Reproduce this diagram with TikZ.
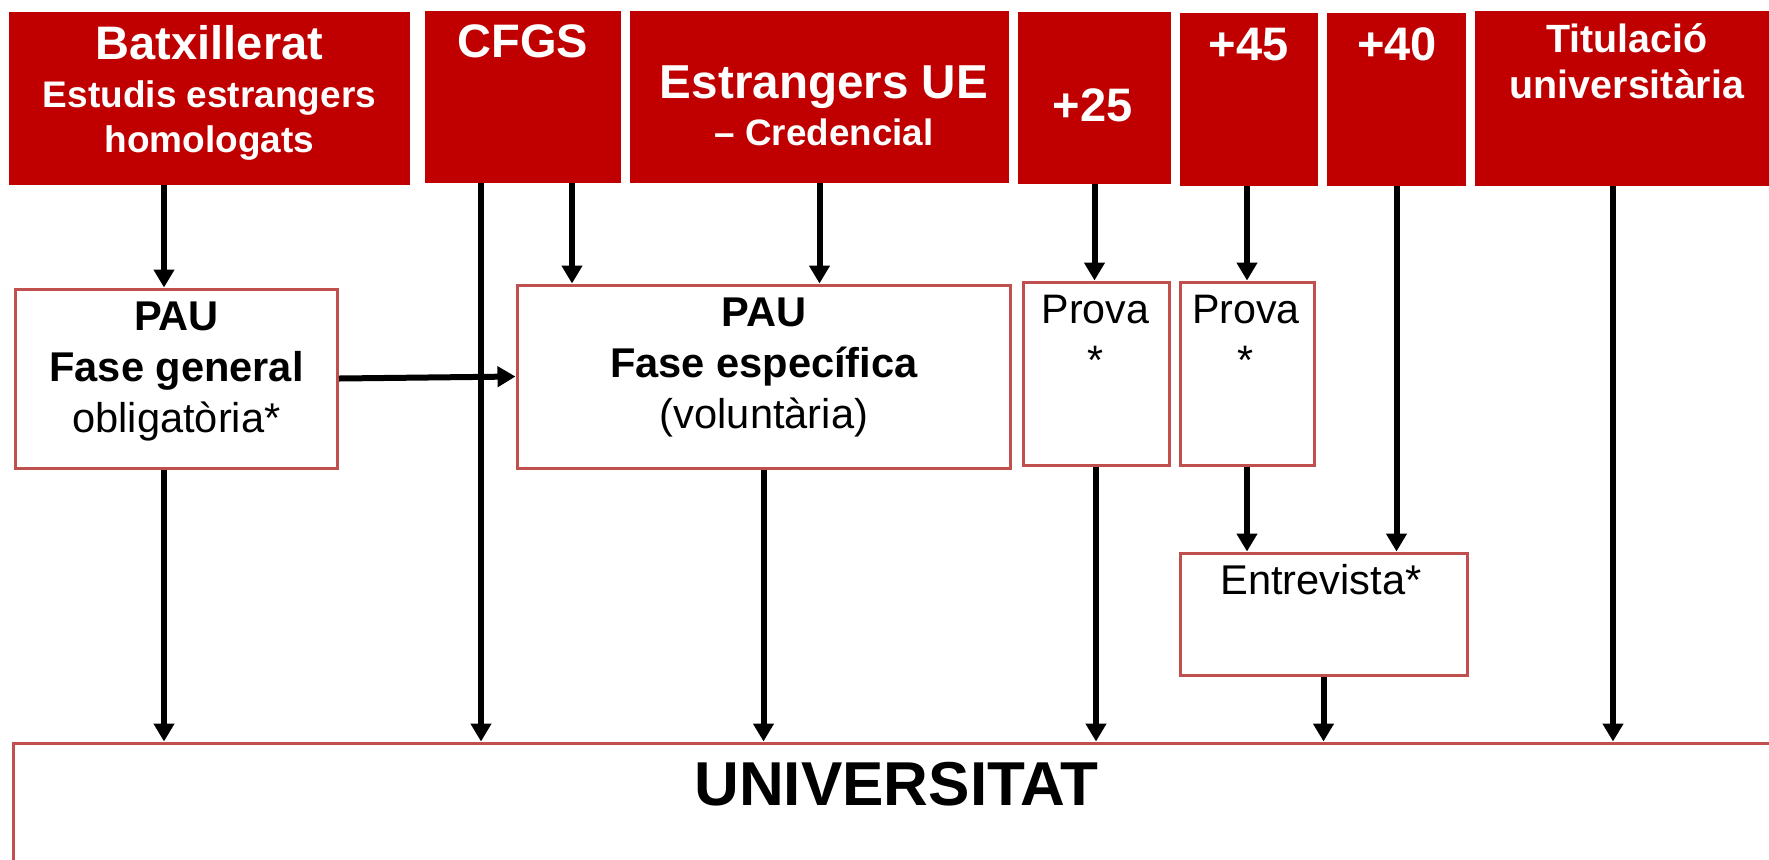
\documentclass[tikz,border=0pt]{standalone}
\usepackage{fontspec}
\setmainfont{Liberation Sans}
\usetikzlibrary{arrows.meta}
\definecolor{darkred}{HTML}{C00000}
\definecolor{boxred}{HTML}{C0504D}

\begin{document}
\begin{tikzpicture}[x=0.5pt,y=-0.5pt,
        topbox/.style={fill=darkred, draw=none, inner sep=0pt},
        midbox/.style={draw=boxred, line width=1.5pt, fill=white, inner sep=0pt},
        arr/.style={-{Triangle[width=10pt,length=9pt]}, line width=3pt},
        wtxt/.style={text=white, align=center, inner sep=0pt, anchor=base},
        btxt/.style={text=black, align=center, inner sep=0pt, anchor=base}]
        \useasboundingbox (0,0) rectangle (1769,859);
        \clip (0,0) rectangle (1769,859);

        % Blocks
        \node[topbox, minimum width=200.5pt, minimum height=86.5pt] (batx) at (209.5,98.5) {};
        \node[topbox, minimum width=98pt, minimum height=86pt] (cfgs) at (523,97) {};
        \node[topbox, minimum width=189.5pt, minimum height=86pt] (estr) at (819.5,97) {};
        \node[topbox, minimum width=76.5pt, minimum height=86pt] (p25) at (1094.5,98) {};
        \node[topbox, minimum width=69pt, minimum height=86.5pt] (p45) at (1249,99.5) {};
        \node[topbox, minimum width=69.5pt, minimum height=86.5pt] (p40) at (1396.5,99.5) {};
        \node[topbox, minimum width=152pt, minimum height=87.5pt] (tit) at (1627,98.5) {};

        \node[midbox, minimum width=161pt, minimum height=89.5pt] (pauG) at (176.5,378.5) {};
        \node[midbox, minimum width=246.5pt, minimum height=91.5pt] (pauE) at (763.5,376.5) {};
        \node[midbox, minimum width=73pt, minimum height=91.5pt] (pv25) at (1096,373.5) {};
        \node[midbox, minimum width=67pt, minimum height=91.5pt] (pv45) at (1247,373.5) {};
        \node[midbox, minimum width=143.5pt, minimum height=61pt] (entr) at (1323.5,614) {};
        \node[midbox, minimum width=893.5pt, minimum height=78.5pt] (univ) at (906.5,821.5) {};

        % Texts (base = last line)
        \node[wtxt, font=\fontsize{23.5pt}{28pt}\selectfont\bfseries] (batxA) at (209.5,59) {Batxillerat};
        \node[wtxt, font=\fontsize{18.5pt}{22.5pt}\selectfont\bfseries] (batxB) at (209.5,152) {Estudis estrangers\\homologats};
        \node[wtxt, font=\fontsize{23.5pt}{28pt}\selectfont\bfseries] (cfgsT) at (523,57) {CFGS};
        \node[wtxt, font=\fontsize{23.8pt}{28pt}\selectfont\bfseries] (estrA) at (824,98) {Estrangers UE};
        \node[wtxt, font=\fontsize{18.4pt}{22pt}\selectfont\bfseries] (estrB) at (824,145) {– Credencial};
        \node[wtxt, font=\fontsize{23.5pt}{28pt}\selectfont\bfseries] (p25T) at (1092.5,121) {+25};
        \node[wtxt, font=\fontsize{23.5pt}{28pt}\selectfont\bfseries] (p45T) at (1248.5,60) {+45};
        \node[wtxt, font=\fontsize{23.5pt}{28pt}\selectfont\bfseries] (p40T) at (1397,60) {+40};
        \node[wtxt, font=\fontsize{19.7pt}{23pt}\selectfont\bfseries] (titT) at (1627,98) {Titulació\\universitària};

        \node[btxt, font=\fontsize{20.8pt}{25.3pt}\selectfont] (pauGT) at (176.5,432) {\textbf{PAU}\\\textbf{Fase general}\\obligatòria*};
        \node[btxt, font=\fontsize{20.8pt}{25.3pt}\selectfont] (pauET) at (764,428) {\textbf{PAU}\\\textbf{Fase específica}\\(voluntària)};
        \node[btxt, font=\fontsize{20.6pt}{25.5pt}\selectfont] (pv25T) at (1095.5,374) {Prova\\*};
        \node[btxt, font=\fontsize{20.6pt}{25.5pt}\selectfont] (pv45T) at (1246,374) {Prova\\*};
        \node[btxt, font=\fontsize{20.8pt}{25pt}\selectfont] (entrT) at (1321,594) {Entrevista*};
        \node[btxt, font=\fontsize{31pt}{36pt}\selectfont\bfseries] (univT) at (896.5,805) {UNIVERSITAT};

        % Columns
        \coordinate (colBatx) at (164,0);
        \coordinate (colCfgsL) at (481,0);
        \coordinate (colCfgsR) at (572,0);
        \coordinate (colTit) at (1613,0);

        % Arrows
        \draw[arr] (batx.south -| colBatx) -- (pauG.north -| colBatx);
        \draw[arr] (cfgs.south -| colCfgsL) -- (univ.north -| colCfgsL);
        \draw[arr] (cfgs.south -| colCfgsR) -- (pauE.north -| colCfgsR);
        \draw[arr] (estr.south) -- (pauE.north -| estr.south);
        \draw[arr] (p25.south) -- (pv25.north -| p25.south);
        \draw[arr] (p45.south -| pv45.north) -- (pv45.north);
        \draw[arr] (p40.south) -- (entr.north -| p40.south);
        \draw[arr] (tit.south -| colTit) -- (univ.north -| colTit);
        \draw[arr] (pauG.east) -- (pauE.west);
        \draw[arr] (pauG.south -| colBatx) -- (univ.north -| colBatx);
        \draw[arr] (pauE.south) -- (univ.north -| pauE.south);
        \draw[arr] (pv25.south) -- (univ.north -| pv25.south);
        \draw[arr] (pv45.south) -- (entr.north -| pv45.south);
        \draw[arr] (entr.south) -- (univ.north -| entr.south);

    \end{tikzpicture}
\end{document}
